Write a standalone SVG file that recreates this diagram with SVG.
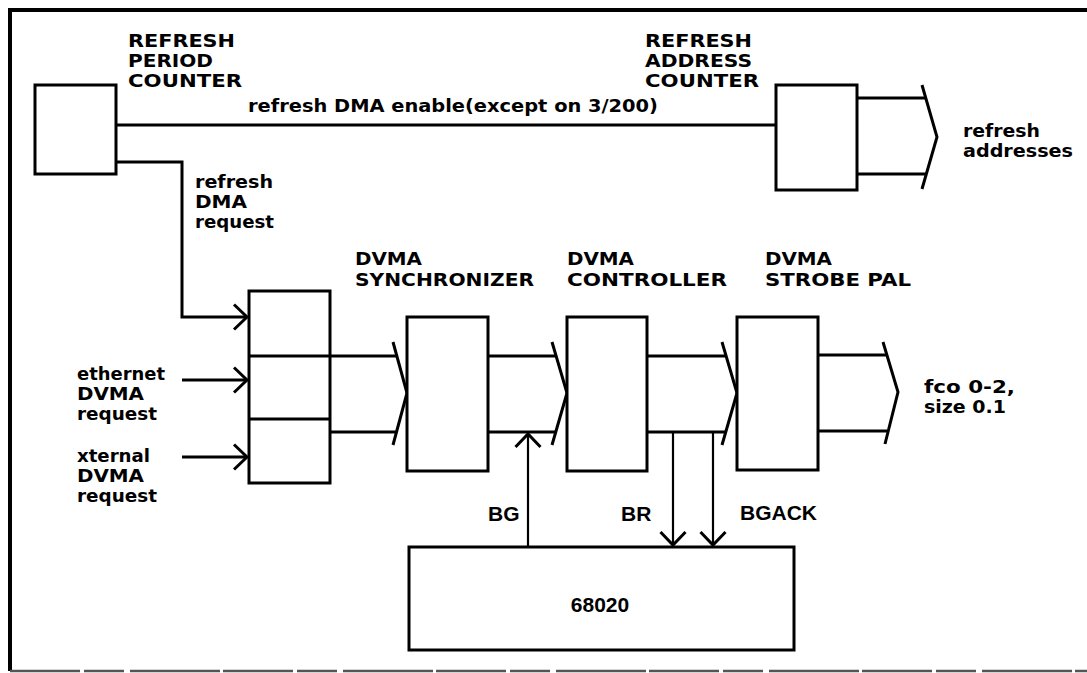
<svg xmlns="http://www.w3.org/2000/svg" width="1087" height="673" viewBox="0 0 1087 673">
<defs>
<style>
.box{fill:#fff;stroke:#000;stroke-width:3}
.ln{fill:none;stroke:#000;stroke-width:3}
.thin{fill:none;stroke:#000;stroke-width:2.2}
.lbl{font-family:"DejaVu Sans",sans-serif;font-weight:bold;font-size:18.4px;fill:#000}
.sig{font-family:"Liberation Sans",Arial,sans-serif;font-weight:bold;font-size:21px;fill:#000}
</style>
<marker id="arr" markerUnits="userSpaceOnUse" markerWidth="30" markerHeight="30" refX="0" refY="0" viewBox="-16 -15 18 30" orient="auto" overflow="visible">
<path d="M -13 -12.5 L 0 0 L -13 12.5" fill="none" stroke="#000" stroke-width="3"/>
</marker>
</defs>
<rect width="1087" height="673" fill="#fff"/>
<g id="frame">
<line x1="8" y1="10" x2="1087" y2="10" stroke="#000" stroke-width="4"/>
<line x1="10" y1="8" x2="10" y2="671" stroke="#000" stroke-width="4"/>
<line x1="10" y1="671" x2="1087" y2="671" stroke="#555" stroke-width="2.5" stroke-dasharray="70 4 40 6 90 3"/>
</g>
<g id="connectors">
<line class="ln" x1="116" y1="125" x2="776" y2="125"/>
<polyline class="ln" points="116,162 182,162 182,317 247,317" marker-end="url(#arr)"/>
<line class="ln" x1="182" y1="380" x2="247" y2="380" marker-end="url(#arr)"/>
<line class="ln" x1="182" y1="457" x2="247" y2="457" marker-end="url(#arr)"/>
<line class="ln" x1="857" y1="98" x2="926" y2="98"/>
<line class="ln" x1="857" y1="174" x2="926" y2="174"/>
<polyline class="ln" points="922,85 937,137 922,189"/>
<line class="ln" x1="330" y1="356" x2="397" y2="356"/>
<line class="ln" x1="330" y1="432" x2="397" y2="432"/>
<polyline class="ln" points="393,342 407,393 393,445"/>
<line class="ln" x1="488" y1="356" x2="556" y2="356"/>
<line class="ln" x1="488" y1="432" x2="556" y2="432"/>
<polyline class="ln" points="552,342 567,393 552,445"/>
<line class="ln" x1="647" y1="356" x2="726" y2="356"/>
<line class="ln" x1="647" y1="432" x2="726" y2="432"/>
<polyline class="ln" points="722,342 737,393 722,445"/>
<line class="ln" x1="818" y1="355" x2="887" y2="355"/>
<line class="ln" x1="818" y1="431" x2="887" y2="431"/>
<polyline class="ln" points="883,342 898,392 885,444"/>
<line class="thin" x1="528" y1="547" x2="528" y2="434" marker-end="url(#arr)"/>
<line class="thin" x1="673" y1="432" x2="673" y2="545" marker-end="url(#arr)"/>
<line class="thin" x1="713" y1="432" x2="713" y2="545" marker-end="url(#arr)"/>
</g>
<g id="refresh-period-counter">
<rect class="box" x="35" y="85" width="81" height="89"/>
<text class="lbl" x="128" y="47" textLength="107" lengthAdjust="spacingAndGlyphs">REFRESH</text>
<text class="lbl" x="128" y="67" textLength="85" lengthAdjust="spacingAndGlyphs">PERIOD</text>
<text class="lbl" x="128" y="87" textLength="114" lengthAdjust="spacingAndGlyphs">COUNTER</text>
</g>
<g id="refresh-address-counter">
<rect class="box" x="776" y="85" width="81" height="105"/>
<text class="lbl" x="645" y="47" textLength="107" lengthAdjust="spacingAndGlyphs">REFRESH</text>
<text class="lbl" x="645" y="67" textLength="107" lengthAdjust="spacingAndGlyphs">ADDRESS</text>
<text class="lbl" x="645" y="87" textLength="114" lengthAdjust="spacingAndGlyphs">COUNTER</text>
</g>
<g id="labels">
<text class="lbl" x="248" y="112" textLength="410" lengthAdjust="spacingAndGlyphs">refresh DMA enable(except on 3/200)</text>
<text class="lbl" x="963" y="137" textLength="77" lengthAdjust="spacingAndGlyphs">refresh</text>
<text class="lbl" x="963" y="157" textLength="110" lengthAdjust="spacingAndGlyphs">addresses</text>
<text class="lbl" x="195" y="188" textLength="78" lengthAdjust="spacingAndGlyphs">refresh</text>
<text class="lbl" x="195" y="208" textLength="52" lengthAdjust="spacingAndGlyphs">DMA</text>
<text class="lbl" x="195" y="228" textLength="79" lengthAdjust="spacingAndGlyphs">request</text>
<text class="lbl" x="77" y="380" textLength="88" lengthAdjust="spacingAndGlyphs">ethernet</text>
<text class="lbl" x="77" y="400" textLength="67" lengthAdjust="spacingAndGlyphs">DVMA</text>
<text class="lbl" x="77" y="420" textLength="80" lengthAdjust="spacingAndGlyphs">request</text>
<text class="lbl" x="77" y="462" textLength="73" lengthAdjust="spacingAndGlyphs">xternal</text>
<text class="lbl" x="77" y="482" textLength="67" lengthAdjust="spacingAndGlyphs">DVMA</text>
<text class="lbl" x="77" y="502" textLength="80" lengthAdjust="spacingAndGlyphs">request</text>
<text class="lbl" x="924" y="393" textLength="91" lengthAdjust="spacingAndGlyphs">fco 0-2,</text>
<text class="lbl" x="924" y="413" textLength="82" lengthAdjust="spacingAndGlyphs">size 0.1</text>
<text class="sig" x="488" y="521">BG</text>
<text class="sig" x="621" y="521">BR</text>
<text class="sig" x="740" y="520">BGACK</text>
</g>
<g id="input-latch">
<rect class="box" x="249" y="291" width="81" height="192"/>
<line class="ln" x1="249" y1="356" x2="330" y2="356"/>
<line class="ln" x1="249" y1="419" x2="330" y2="419"/>
</g>
<g id="dvma-synchronizer">
<rect class="box" x="407" y="317" width="81" height="154"/>
<text class="lbl" x="355" y="265" textLength="67" lengthAdjust="spacingAndGlyphs">DVMA</text>
<text class="lbl" x="355" y="286" textLength="179" lengthAdjust="spacingAndGlyphs">SYNCHRONIZER</text>
</g>
<g id="dvma-controller">
<rect class="box" x="567" y="317" width="80" height="154"/>
<text class="lbl" x="567" y="265" textLength="67" lengthAdjust="spacingAndGlyphs">DVMA</text>
<text class="lbl" x="567" y="286" textLength="160" lengthAdjust="spacingAndGlyphs">CONTROLLER</text>
</g>
<g id="dvma-strobe-pal">
<rect class="box" x="737" y="317" width="81" height="153"/>
<text class="lbl" x="765" y="265" textLength="67" lengthAdjust="spacingAndGlyphs">DVMA</text>
<text class="lbl" x="765" y="285.5" textLength="146" lengthAdjust="spacingAndGlyphs">STROBE PAL</text>
</g>
<g id="cpu-68020">
<rect class="box" x="409" y="547" width="385" height="103"/>
<text class="sig" x="600" y="612" text-anchor="middle" font-size="22">68020</text>
</g>
</svg>
